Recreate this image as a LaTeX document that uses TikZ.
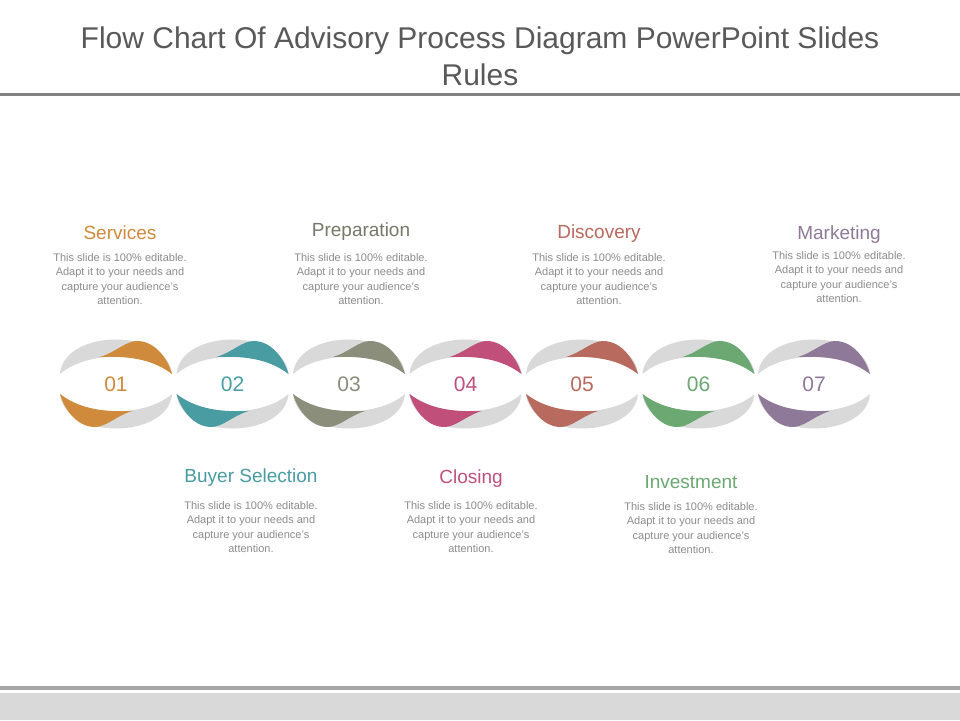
\documentclass[tikz,border=0pt]{standalone}
\usepackage{fontspec}
\setmainfont{Liberation Sans}
\definecolor{c1}{HTML}{D08A3C}\definecolor{c2}{HTML}{4A9CA3}\definecolor{c3}{HTML}{8A8E7A}
\definecolor{c4}{HTML}{C0507A}\definecolor{c5}{HTML}{B86A5E}\definecolor{c6}{HTML}{6BA872}
\definecolor{c7}{HTML}{8E7A98}\definecolor{ring}{HTML}{D9D9D9}\definecolor{body}{HTML}{8C8C8C}
\tikzset{
 head/.style={font=\fontsize{19}{22}\selectfont,anchor=center},
 bodytxt/.style={font=\fontsize{11}{14.3}\selectfont,text=body,align=center,anchor=north},
 num/.style={font=\fontsize{21}{24}\selectfont}
}
\newcommand{\halfunit}[1]{%
 \fill[ring] (-56,-10) .. controls (-52,-56) and (52,-56) .. (56,-10) .. controls (30,-33) and (-30,-33) .. cycle;
 \fill[#1] (-16,-27) .. controls (0,-32) and (10,-43) .. (21,-43) .. controls (40,-43) and (52,-24) .. (56,-10) .. controls (35,-26) and (10,-28) .. cycle;}
\newcommand{\unit}[4]{%
 \begin{scope}[shift={(#1,384)}] \halfunit{#2} \end{scope}
 \begin{scope}[shift={(#1,384)},rotate=180] \halfunit{#2} \end{scope}
 \node[num,text=#2] (#4) at (#1,384) {#3};}
\begin{document}
\begin{tikzpicture}[x=1pt,y=-1pt]
\useasboundingbox (0,0) rectangle (960,720);
\fill[white] (0,0) rectangle (960,720);
\node[font=\fontsize{30}{37}\selectfont,text=black!65,align=center] (title) at (480,56) {Flow Chart Of Advisory Process Diagram PowerPoint Slides\\Rules};
\draw[black!50,line width=3] (0,94) -- (960,94);
\draw[black!35,line width=4] (0,688) -- (960,688);
\fill[ring] (0,693) rectangle (960,720);
\unit{116}{c1}{01}{n1}
\unit{232.5}{c2}{02}{n2}
\unit{349}{c3}{03}{n3}
\unit{465.5}{c4}{04}{n4}
\unit{582}{c5}{05}{n5}
\unit{698.5}{c6}{06}{n6}
\unit{814}{c7}{07}{n7}
\def\bt{This slide is 100\% editable.\\Adapt it to your needs and\\capture your audience's\\attention.}
\node[head,text=c1] (h1) at (120,233) {Services};
\node[bodytxt] (b1) at (120,250) {\bt};
\node[head,text=c3!85!black] (h3) at (361,232) {Preparation};
\node[bodytxt] (b3) at (361,250) {\bt};
\node[head,text=c5] (h5) at (599,234) {Discovery};
\node[bodytxt] (b5) at (599,250) {\bt};
\node[head,text=c7] (h7) at (839,235) {Marketing};
\node[bodytxt] (b7) at (839,248) {\bt};
\node[head,text=c2] (h2) at (251,478) {Buyer Selection};
\node[bodytxt] (b2) at (251,498) {\bt};
\node[head,text=c4] (h4) at (471,479) {Closing};
\node[bodytxt] (b4) at (471,498) {\bt};
\node[head,text=c6] (h6) at (691,482) {Investment};
\node[bodytxt] (b6) at (691,499) {\bt};
\end{tikzpicture}
\end{document}
